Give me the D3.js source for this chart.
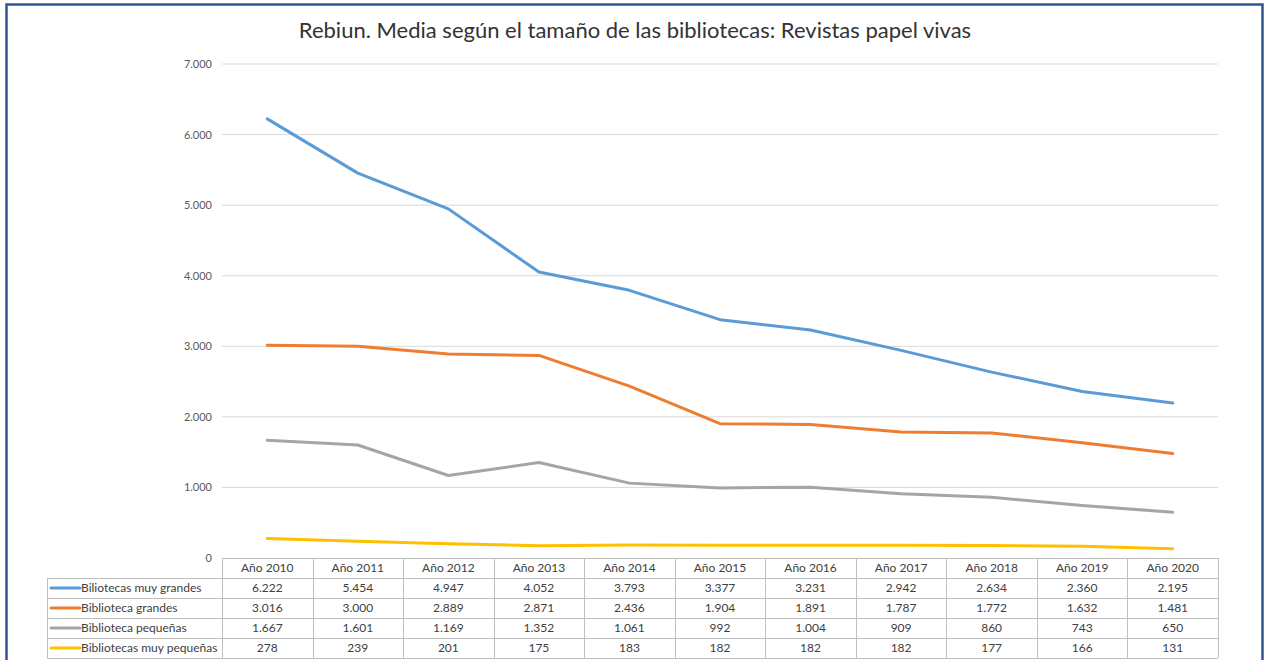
<!DOCTYPE html>
<html>
<head>
<meta charset="utf-8">
<script src="https://cdn.jsdelivr.net/npm/d3@7"></script>
<style>
  body { margin: 0; background: #fff; }
  svg { display: block; }
</style>
</head>
<body>
<svg width="1266" height="660"></svg>
<script>
let svg = d3.select('svg');

// data
const years = ['Año 2010', 'Año 2011', 'Año 2012', 'Año 2013', 'Año 2014', 'Año 2015',
               'Año 2016', 'Año 2017', 'Año 2018', 'Año 2019', 'Año 2020'];
const seriesNames = ['Biliotecas muy grandes', 'Biblioteca grandes', 'Biblioteca pequeñas', 'Bibliotecas muy pequeñas'];
const muyGrandes = [6222, 5454, 4947, 4052, 3793, 3377, 3231, 2942, 2634, 2360, 2195];
const grandes = [3016, 3000, 2889, 2871, 2436, 1904, 1891, 1787, 1772, 1632, 1481];
const pequenas = [1667, 1601, 1169, 1352, 1061, 992, 1004, 909, 860, 743, 650];
const muyPequenas = [278, 239, 201, 175, 183, 182, 182, 182, 177, 166, 131];
const yTicks = [0, 1000, 2000, 3000, 4000, 5000, 6000, 7000];
const colors = ['#5B9BD5', '#ED7D31', '#A5A5A5', '#FFC000'];

const allSeries = [muyGrandes, grandes, pequenas, muyPequenas];

const fontFam = 'Lato, "Open Sans", sans-serif';
const loc = d3.formatLocale({decimal: ',', thousands: '.', grouping: [3], currency: ['', '€']});
const fmt = loc.format(',d');

// outer frame
svg.append('rect')
    .attr('x', 6.5).attr('y', 4.5)
    .attr('width', 1256).attr('height', 670)
    .attr('fill', 'none')
    .attr('stroke', '#2F5597')
    .attr('stroke-width', 2.5);

// title
svg.append('text')
    .attr('x', 635).attr('y', 38)
    .attr('text-anchor', 'middle')
    .attr('font-family', fontFam)
    .attr('font-size', 22)
    .attr('fill', '#333333')
    .text('Rebiun. Media según el tamaño de las bibliotecas: Revistas papel vivas');

let scaleX = d3.scaleBand().domain(years).range([222, 1218]);
let scaleY = d3.scaleLinear().domain([0, 7000]).range([558, 64]);

// gridlines
svg.selectAll('.grid')
    .data(yTicks.filter(t => t > 0))
    .enter()
    .append('line')
    .attr('x1', 222).attr('x2', 1218)
    .attr('y1', d => scaleY(d)).attr('y2', d => scaleY(d))
    .attr('stroke', '#D9D9D9')
    .attr('stroke-width', 1);

// y labels
svg.selectAll('.ylab')
    .data(yTicks)
    .enter()
    .append('text')
    .attr('x', 212)
    .attr('y', d => scaleY(d) + 4)
    .attr('text-anchor', 'end')
    .attr('font-family', fontFam)
    .attr('font-size', 11)
    .attr('fill', '#595959')
    .text(d => fmt(d));

// lines
let line = d3.line()
    .x((d, i) => scaleX(years[i]) + scaleX.bandwidth() / 2)
    .y(d => scaleY(d));

svg.selectAll('.serie')
    .data(allSeries)
    .enter()
    .append('path')
    .attr('d', d => line(d))
    .attr('fill', 'none')
    .attr('stroke', (d, i) => colors[i])
    .attr('stroke-width', 3)
    .attr('stroke-linejoin', 'round')
    .attr('stroke-linecap', 'round');

// data table
const rowH = 20;
const tableTop = 558;
const labelLeft = 47;
const gridCol = '#BFBFBF';
let table = svg.append('g');

// header row
table.selectAll('.hdr')
    .data(years)
    .enter()
    .append('text')
    .attr('x', d => scaleX(d) + scaleX.bandwidth() / 2)
    .attr('y', tableTop + 14)
    .attr('text-anchor', 'middle')
    .attr('font-family', fontFam)
    .attr('font-size', 12)
    .attr('fill', '#404040')
    .text(d => d);

// horizontal rules
table.append('line')
    .attr('x1', 222).attr('x2', 1218)
    .attr('y1', tableTop + 0.5).attr('y2', tableTop + 0.5)
    .attr('stroke', gridCol);
for (let r = 1; r <= 5; r++) {
    table.append('line')
        .attr('x1', labelLeft).attr('x2', 1218)
        .attr('y1', tableTop + r * rowH + 0.5).attr('y2', tableTop + r * rowH + 0.5)
        .attr('stroke', gridCol);
}
// vertical rules
table.append('line')
    .attr('x1', labelLeft + 0.5).attr('x2', labelLeft + 0.5)
    .attr('y1', tableTop + rowH).attr('y2', tableTop + 5 * rowH)
    .attr('stroke', gridCol);
years.forEach(y => {
    table.append('line')
        .attr('x1', Math.round(scaleX(y)) + 0.5).attr('x2', Math.round(scaleX(y)) + 0.5)
        .attr('y1', tableTop).attr('y2', tableTop + 5 * rowH)
        .attr('stroke', gridCol);
});
table.append('line')
    .attr('x1', 1218.5).attr('x2', 1218.5)
    .attr('y1', tableTop).attr('y2', tableTop + 5 * rowH)
    .attr('stroke', gridCol);

// rows
allSeries.forEach((vals, i) => {
    let yy = tableTop + (i + 1) * rowH;
    table.append('line')
        .attr('x1', 51).attr('x2', 80)
        .attr('y1', yy + 10).attr('y2', yy + 10)
        .attr('stroke', colors[i])
        .attr('stroke-width', 3)
        .attr('stroke-linecap', 'round');
    table.append('text')
        .attr('x', 81).attr('y', yy + 14)
        .attr('font-family', fontFam)
        .attr('font-size', 12)
        .attr('fill', '#404040')
        .text(seriesNames[i]);
    table.selectAll('.v' + i)
        .data(vals)
        .enter()
        .append('text')
        .attr('x', (d, j) => scaleX(years[j]) + scaleX.bandwidth() / 2)
        .attr('y', yy + 14)
        .attr('text-anchor', 'middle')
        .attr('font-family', fontFam)
        .attr('font-size', 12)
        .attr('fill', '#404040')
        .text(d => fmt(d));
});
</script>
</body>
</html>
